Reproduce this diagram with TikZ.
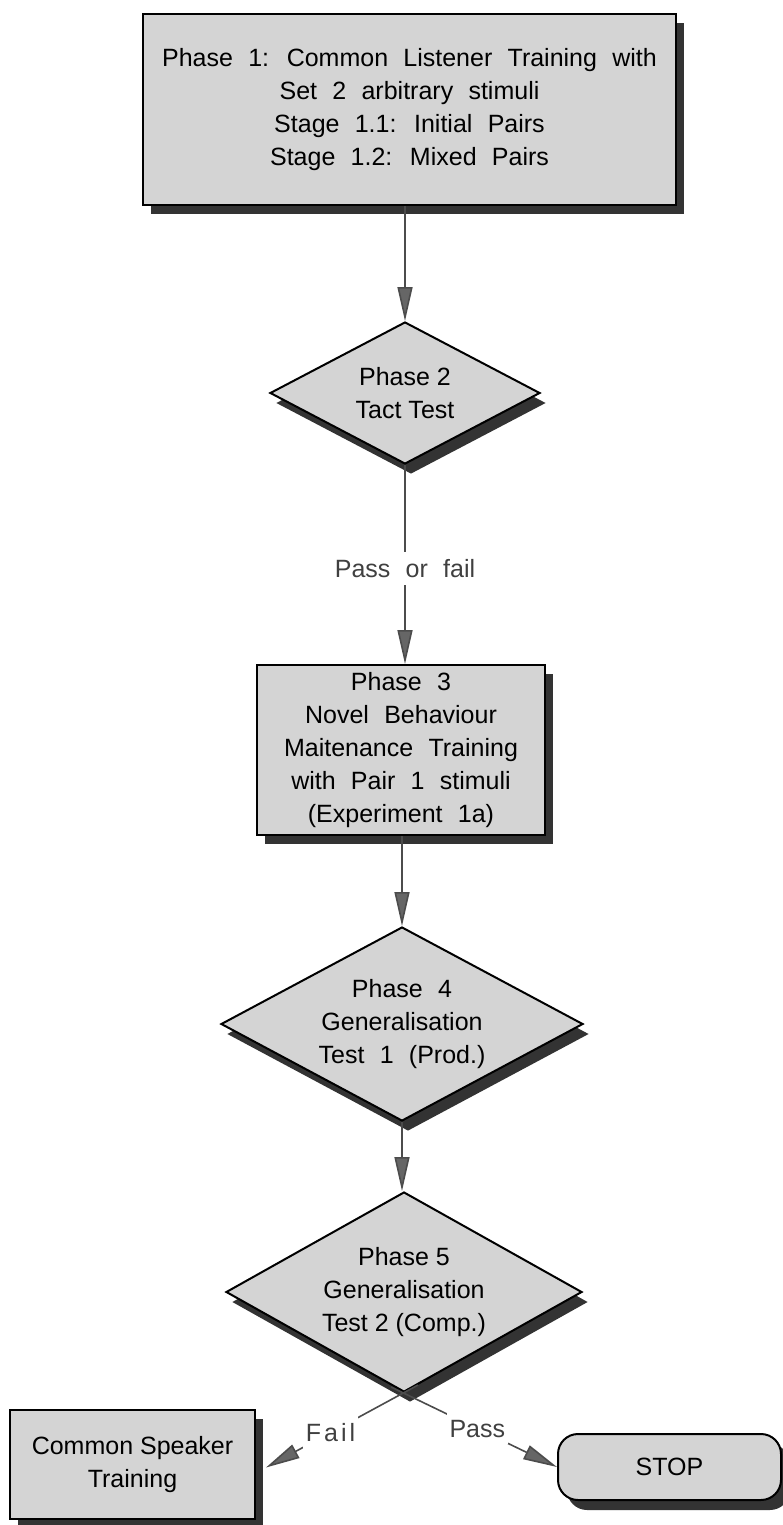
\documentclass[tikz,border=0pt]{standalone}
\usepackage{fontspec}
\setmainfont{Liberation Sans}
\newfontfamily\widesp{Liberation Sans}[WordSpace=2.2]
\newfontfamily\trackedsp{Liberation Sans}[LetterSpace=12]
\usetikzlibrary{shapes.geometric,shadows,arrows.meta,calc}

\begin{document}
\begin{tikzpicture}[x=1pt,y=-1pt,
  every node/.style={font=\fontsize{25}{33}\selectfont, align=center},
  widetext/.style={font=\widesp\fontsize{25}{33}\selectfont},
  boxshadow/.style={drop shadow={shadow xshift=8pt,shadow yshift=-9pt,fill=black!80,opacity=1}},
  phasebox/.style={rectangle, draw=black, line width=2pt, fill=black!17, inner sep=0pt, boxshadow},
  testdiamond/.style={diamond, draw=black, line width=2pt, fill=black!17, inner sep=0pt,
    drop shadow={shadow xshift=6pt,shadow yshift=-10pt,fill=black!80,opacity=1}},
  endbox/.style={rectangle, rounded corners=20pt, draw=black, line width=2pt, fill=black!17, inner sep=0pt,
    drop shadow={shadow xshift=9pt,shadow yshift=-10pt,fill=black!80,opacity=1}},
  flow/.style={draw=black!70, line width=1.6pt, -{Triangle[length=34pt,width=15pt,fill=black!60]}},
  flowlabel/.style={fill=white, text=black!75, inner xsep=3pt, inner ysep=7pt}
]
\useasboundingbox (0,0) rectangle (783,1525);

% phases
\node[phasebox, minimum width=533pt, minimum height=191pt, widetext] (b1) at (409.5,109.5)
  {Phase 1: Common Listener Training with\\Set 2 arbitrary stimuli\\Stage 1.1: Initial Pairs\\Stage 1.2: Mixed Pairs};
\node[testdiamond, aspect=1.9, minimum width=270pt, minimum height=142pt] (d2) at (405,393)
  {Phase 2\\Tact Test};
\node[phasebox, minimum width=288pt, minimum height=170pt, widetext] (b3) at (401,750)
  {Phase 3\\Novel Behaviour\\Maitenance Training\\with Pair 1 stimuli\\(Experiment 1a)};
\node[testdiamond, aspect=1.87, minimum width=362pt, minimum height=194pt, widetext] (d4) at (402,1024)
  {Phase 4\\Generalisation\\Test 1 (Prod.)};
\node[testdiamond, aspect=1.78, minimum width=356pt, minimum height=200pt] (d5) at (404,1292)
  {Phase 5\\Generalisation\\Test 2 (Comp.)};
\node[phasebox, minimum width=245pt, minimum height=109pt] (cs) at (132.5,1464.5)
  {Common Speaker\\Training};
\node[endbox, minimum width=223pt, minimum height=66pt] (stop) at (669.5,1467) {STOP};

% connectors
\draw[flow] (d2.north |- b1.south) -- (d2.north);
\draw[flow] (d2.south) -- node[flowlabel, widetext, pos=0.52] {Pass or fail} (d2.south |- b3.north);
\draw[flow] (d4.north |- b3.south) -- (d4.north);
\draw[flow] (d4.south) -- (d4.south |- d5.north);

\coordinate (failstart) at ($(d5.south)+(14,-8)$);
\coordinate (passstart) at ($(d5.south)+(-13,-6)$);
\coordinate (failend) at ($(cs.east)+(10,3)$);
\draw[flow] (failstart) -- node[flowlabel, pos=0.575, font=\trackedsp\fontsize{25}{33}\selectfont] {Fail} (failend);
\draw[flow] (passstart) -- node[flowlabel, pos=0.52] {Pass} (stop.west);
\end{tikzpicture}
\end{document}
